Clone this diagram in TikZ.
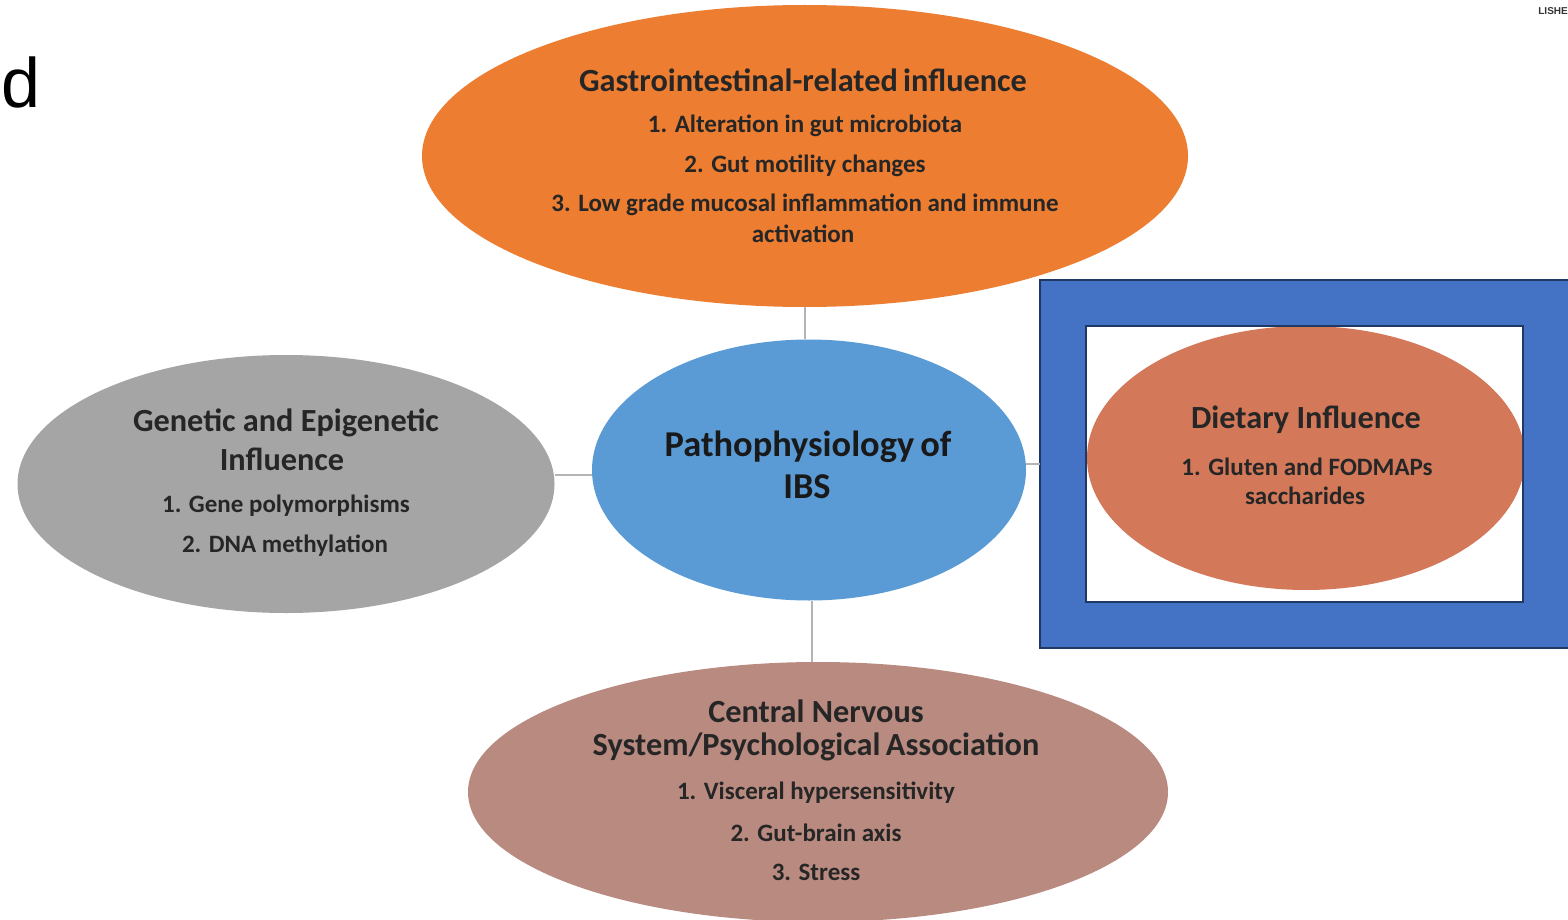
\documentclass[tikz,border=0pt]{standalone}
\usepackage{fontspec}
\setmainfont{Carlito}
\newfontfamily\arialfont{Liberation Sans}
\usetikzlibrary{shapes.geometric}
\definecolor{gutorange}{HTML}{ED7D31}
\definecolor{centralblue}{HTML}{5B9BD5}
\definecolor{genegray}{HTML}{A5A5A5}
\definecolor{cnsrose}{HTML}{B98A80}
\definecolor{dietred}{HTML}{D3795A}
\definecolor{framefill}{HTML}{4472C4}
\definecolor{frameedge}{HTML}{1F3864}
\definecolor{linkgray}{HTML}{B4B4B4}
\tikzset{
  blob/.style={ellipse, draw=none, inner sep=0pt},
  head/.style={font=\bfseries\fontsize{32.3}{38}\selectfont, text=black!85, inner sep=0pt},
  item/.style={font=\bfseries\fontsize{25}{30}\selectfont, text=black!85, inner sep=0pt},
  hub/.style={font=\bfseries\fontsize{36.4}{44}\selectfont, text=black!90, inner sep=0pt},
  link/.style={draw=linkgray, line width=2pt},
}
\begin{document}
\begin{tikzpicture}[x=1pt, y=-1pt]
\useasboundingbox (0,0) rectangle (1568,920);
\fill[white] (0,0) rectangle (1568,920);

% panel letter and cropped banner text
\node[anchor=base west, inner sep=0pt, font=\arialfont\fontsize{70}{70}\selectfont] (panel) at (1,108) {d};
\node[anchor=base east, inner sep=0pt, font=\arialfont\bfseries\fontsize{10}{10}\selectfont, text=black!80] (banner) at (1568,15) {LISHE};

% framed dietary panel
\draw[fill=framefill, draw=frameedge, line width=2pt] (1040,280) rectangle (1570,648);
\draw[fill=white, draw=frameedge, line width=2pt] (1086,326) rectangle (1523,602);

% ellipses
\node[blob, fill=gutorange, minimum width=766pt, minimum height=302pt] (gi) at (805,156) {};
\node[blob, fill=centralblue, minimum width=434pt, minimum height=261pt] (hub) at (809,470) {};
\node[blob, fill=genegray, minimum width=537pt, minimum height=258pt] (gen) at (286,484) {};
\node[blob, fill=cnsrose, minimum width=700pt, minimum height=260pt] (cns) at (818,792) {};
\begin{scope}
  \clip (1087,327) rectangle (1522,601);
  \node[blob, fill=dietred, minimum width=438pt, minimum height=264pt] (diet) at (1306,458) {};
\end{scope}

% connectors
\path[link] (gi.south) -- (gi.south |- hub.north);
\path[link] (gen.east |- 0,475) -- (hub.west |- 0,475);
\path[link] (hub.east |- 0,464) -- (1040,464) coordinate (framel);
\path[link] (hub.south) ++(3,0) coordinate (hubs) -- (hubs |- cns.north);

% gastrointestinal texts
\node[head] (gih) at (803,80) {Gastrointestinal-related\,influence};
\node[item] (gi1) at (805,126) {1. Alteration in gut microbiota};
\node[item] (gi2) at (805,166) {2. Gut motility changes};
\node[item] (gi3) at (805,205) {3. Low grade mucosal inflammation and immune};
\node[item] (gi4) at (803,234) {activation};

% hub text
\node[hub] (hub1) at (808,447) {Pathophysiology\,of};
\node[hub] (hub2) at (807,487) {IBS};

% genetic texts
\node[head] (genh1) at (286,423) {Genetic and Epigenetic};
\node[head] (genh2) at (282,459) {Influence};
\node[item] (gen1) at (286,506) {1. Gene polymorphisms};
\node[item] (gen2) at (285,546) {2. DNA methylation};

% dietary texts
\node[head] (dieth) at (1306,420) {Dietary Influence};
\node[item] (diet1) at (1307,467) {1. Gluten and FODMAPs};
\node[item] (diet2) at (1305,496) {saccharides};

% central nervous system texts
\node[head] (cnsh1) at (816,711) {Central Nervous};
\node[head] (cnsh2) at (816,747) {System/Psychological\,Association};
\node[item] (cns1) at (816,793) {1. Visceral hypersensitivity};
\node[item] (cns2) at (816,833) {2. Gut-brain axis};
\node[item] (cns3) at (816,872) {3. Stress};
\end{tikzpicture}
\end{document}
